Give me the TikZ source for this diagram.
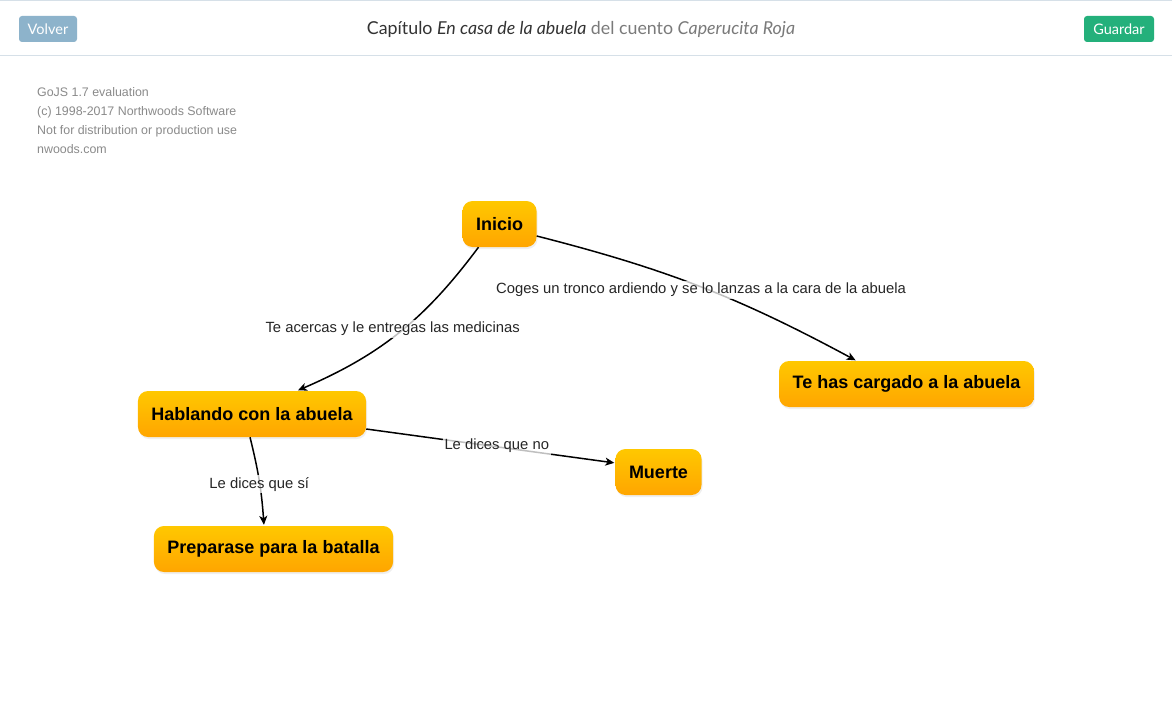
\documentclass[tikz,border=0pt]{standalone}
\usepackage{fontspec}
\setmainfont{Liberation Sans}
\newfontfamily\latofont{Lato}
\usetikzlibrary{arrows.meta,shadows}
\definecolor{oroarriba}{HTML}{FFC800}
\definecolor{oroabajo}{HTML}{FFA500}
\definecolor{volvercol}{HTML}{8DB3CB}
\definecolor{guardarcol}{HTML}{24B07B}
\definecolor{bordecab}{HTML}{D6E0E8}
\definecolor{grismarca}{HTML}{8A8A8A}
\definecolor{gristitulo}{HTML}{7A7A7A}
\tikzset{
    %Define standard arrow tip
    >={Stealth[length=9pt,width=8pt,inset=2.5pt]},
    %Define style for story boxes
    escena/.style={
           rectangle,
           rounded corners=10pt,
           top color=oroarriba, bottom color=oroabajo,
           drop shadow={opacity=.12, shadow xshift=1pt, shadow yshift=-2pt},
           minimum height=46pt,
           inner xsep=13.5pt,
           font=\bfseries\fontsize{18}{21}\selectfont,
           text centered},
    %Define style for link labels
    etiqueta/.style={
           fill=white, fill opacity=.75, text opacity=1,
           text=black!85,
           inner sep=2pt,
           font=\fontsize{14.8}{17}\selectfont},
    %Define style for header buttons
    boton/.style={
           rectangle,
           rounded corners=3pt,
           text=white,
           minimum height=26pt,
           inner xsep=7pt,
           font=\latofont\fontsize{14.5}{16}\selectfont},
    % Define arrow style
    pil/.style={
           ->,
           line width=1.5pt,
           shorten <=0pt,
           shorten >=1pt,}
}
\begin{document}
\begin{tikzpicture}[x=1pt,y=-1pt]
\useasboundingbox (0,0) rectangle (1172,717);
\fill[white] (0,0) rectangle (1172,717);
% header
\draw[bordecab, line width=1.5pt] (0,0.75) -- (1172,0.75);
\draw[bordecab, line width=1pt] (0,55.5) -- (1172,55.5);
\node[boton, fill=volvercol, minimum width=58pt] (volver) at (48,29) {Volver};
\node[boton, fill=guardarcol, minimum width=70pt] (guardar) at (1119,29) {Guardar};
\node[font=\latofont\fontsize{17.8}{20}\selectfont, text=black!80] (titulo) at (581,30)
  {Capítulo \textit{En casa de la abuela} \textcolor{gristitulo}{del cuento \textit{Caperucita Roja}}};
% watermark
\node[anchor=north west, align=left, text=grismarca, inner sep=0pt,
  font=\fontsize{12.4}{19}\selectfont] (marca) at (37,87)
  {GoJS 1.7 evaluation\\(c) 1998-2017 Northwoods Software\\Not for distribution or production use\\nwoods.com};
% story nodes
\node[escena] (inicio) at (499.5,224) {Inicio};
\node[escena] (hablando) at (252,414) {Hablando con la abuela};
\node[escena] (preparase) at (273.5,549) {Preparase para la batalla};
\node[escena] (muerte) at (658.5,472) {Muerte};
\node[escena] (cargado) at (906.5,384) {Te has cargado a la abuela};
% links
\path[pil]
    ([xshift=-21pt]inicio.south) edge[bend left=15]
        node[etiqueta, xshift=-6pt, yshift=4pt] {Te acercas y le entregas las medicinas} ([xshift=45pt]hablando.north)
    ([yshift=-12pt]inicio.east) edge[bend left=7]
        node[etiqueta, yshift=-3pt] {Coges un tronco ardiendo y se lo lanzas a la cara de la abuela} ([xshift=-50pt]cargado.north)
    ([yshift=-15pt]hablando.east) edge
        node[etiqueta, xshift=6pt] {Le dices que no} ([yshift=9pt]muerte.west)
    ([xshift=-2pt]hablando.south) edge[bend left=5]
        node[etiqueta, yshift=-3pt] {Le dices que sí} ([xshift=-9.5pt]preparase.north);
\end{tikzpicture}
\end{document}
